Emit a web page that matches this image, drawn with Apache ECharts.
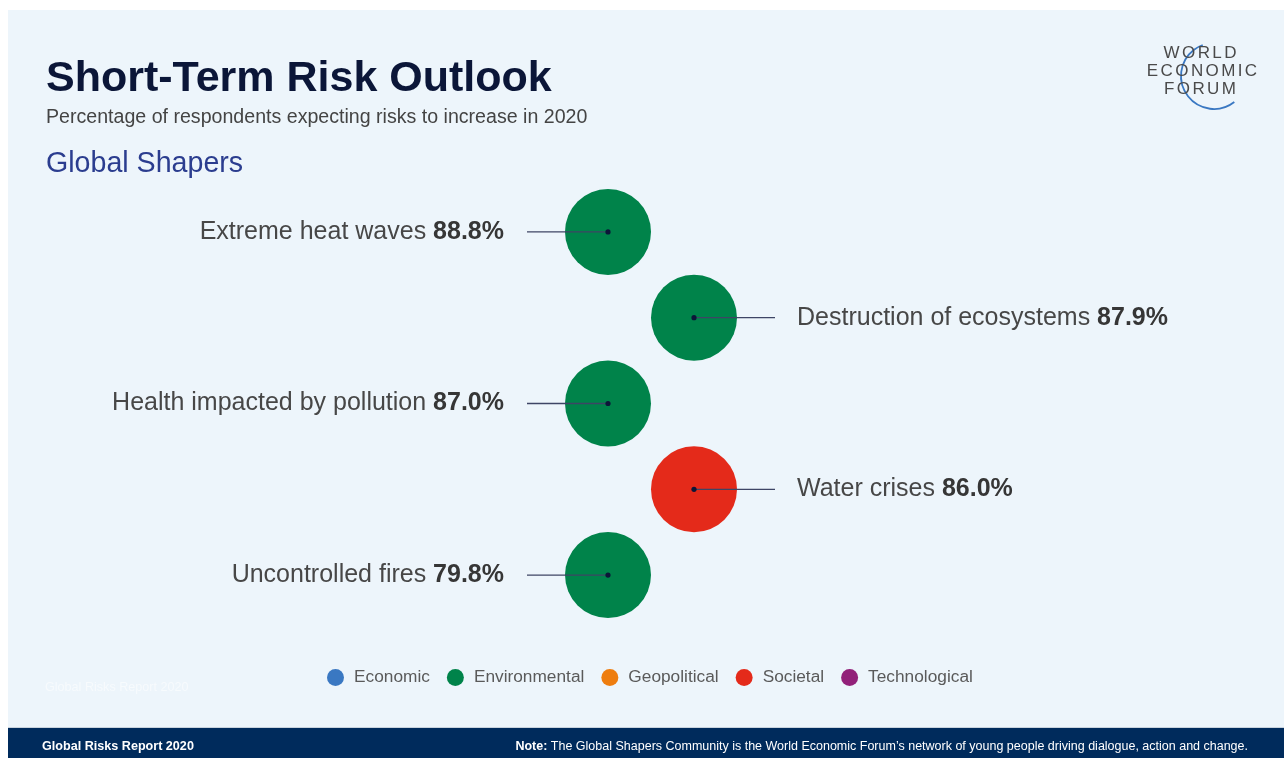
<!DOCTYPE html>
<html>
<head>
<meta charset="utf-8">
<script src="https://cdn.jsdelivr.net/npm/echarts@6/dist/echarts.min.js"></script>
<style>
  html, body { margin: 0; padding: 0; background: #ffffff; }
  #chart { width: 1284px; height: 758px; }
</style>
</head>
<body>
<div id="chart"></div>
<script>
// Risks and share of respondents expecting them to increase
const risks = [
  'Extreme heat waves',
  'Destruction of ecosystems',
  'Health impacted by pollution',
  'Water crises',
  'Uncontrolled fires'
];
const shares = [88.8, 87.9, 87.0, 86.0, 79.8];
const riskCategory = ['Environmental', 'Environmental', 'Environmental', 'Societal', 'Environmental'];

// Legend categories and their colours
const categories = ['Economic', 'Environmental', 'Geopolitical', 'Societal', 'Technological'];
const categoryColors = {
  Economic: '#3A78C2',
  Environmental: '#00834A',
  Geopolitical: '#EE7D0F',
  Societal: '#E42A1A',
  Technological: '#922079'
};

const FONT = '"Liberation Sans", Arial, Helvetica, sans-serif';

// Bubbles alternate between a left column (0) and a right column (1)
const column = i => i % 2;

const bubbleSeries = categories.map(cat => ({
  name: cat,
  type: 'scatter',
  symbol: 'circle',
  symbolSize: 86,
  itemStyle: { color: categoryColors[cat], opacity: 1 },
  emphasis: { disabled: true },
  z: 2,
  data: risks
    .map((r, i) => ({ i, r }))
    .filter(d => riskCategory[d.i] === cat)
    .map(d => ({
      value: [column(d.i), d.r, shares[d.i]],
      label: {
        show: true,
        position: column(d.i) ? 'right' : 'left',
        distance: column(d.i) ? 60 : 61,
        formatter: p => '{n|' + p.value[1] + ' }{v|' + p.value[2].toFixed(1) + '%}',
        rich: {
          n: { fontFamily: FONT, fontSize: 25, color: '#474747' },
          v: { fontFamily: FONT, fontSize: 25, color: '#363636', fontWeight: 'bold' }
        }
      }
    }))
}));

// Leader line from each bubble centre out towards its label
const leaderSeries = {
  type: 'custom',
  name: 'leaders',
  z: 5,
  silent: true,
  data: risks.map((r, i) => [column(i), r]),
  renderItem: (params, api) => {
    const c = api.coord([api.value(0), api.value(1)]);
    const dir = api.value(0) ? 1 : -1;
    return {
      type: 'group',
      children: [
        {
          type: 'line',
          shape: { x1: c[0], y1: c[1], x2: c[0] + dir * 81, y2: c[1] },
          style: { stroke: '#3E4565', lineWidth: 1.3 }
        },
        {
          type: 'circle',
          shape: { cx: c[0], cy: c[1], r: 2.6 },
          style: { fill: '#0B1638' }
        }
      ]
    };
  }
};

// Letter-spaced wordmark lines, laid out one glyph at a time
const measureCtx = document.createElement('canvas').getContext('2d');
function spacedText(str, cx, cy, font, spacing, fill) {
  measureCtx.font = font;
  const widths = Array.from(str).map(ch => measureCtx.measureText(ch).width);
  const total = widths.reduce((a, b) => a + b, 0) + spacing * (str.length - 1);
  let x = cx - total / 2;
  return Array.from(str).map((ch, k) => {
    const el = { type: 'text', z: 2, x: x, y: cy, style: { text: ch, fill: fill, font: font, align: 'left', verticalAlign: 'middle' } };
    x += widths[k] + spacing;
    return el;
  });
}
const LOGO_FONT = '17px ' + FONT;

const chart = echarts.init(document.getElementById('chart'), null, { renderer: 'canvas' });

chart.setOption({
  backgroundColor: '#ffffff',
  animation: false,
  graphic: [
    // panel background
    { type: 'rect', z: -10, shape: { x: 8, y: 10, width: 1276, height: 718 }, style: { fill: '#EDF5FB' } },
    // footer band
    { type: 'rect', z: -10, shape: { x: 8, y: 728, width: 1276, height: 30 }, style: { fill: '#002B5C' } },
    { type: 'line', z: -9, shape: { x1: 8, y1: 727.5, x2: 1284, y2: 727.5 }, style: { stroke: '#C9D3DD', lineWidth: 1 } },
    { type: 'text', left: 42, y: 747, style: { text: 'Global Risks Report 2020', fill: '#ffffff', font: 'bold 12.6px ' + FONT, verticalAlign: 'middle' } },
    {
      type: 'text', right: 36, y: 747,
      style: {
        text: '{b|Note:} The Global Shapers Community is the World Economic Forum\u2019s network of young people driving dialogue, action and change.',
        fill: '#ffffff', font: '12.5px ' + FONT, verticalAlign: 'middle',
        rich: { b: { fill: '#ffffff', font: 'bold 12.5px ' + FONT } }
      }
    },
    // faint watermark line in the panel
    { type: 'text', left: 45, y: 688, style: { text: 'Global Risks Report 2020', fill: 'rgba(255,255,255,0.55)', font: '12.6px ' + FONT, verticalAlign: 'middle' } },
    // title block
    { type: 'text', left: 46, y: 79, style: { text: 'Short-Term Risk Outlook', fill: '#0B1638', font: 'bold 43px ' + FONT, verticalAlign: 'middle' } },
    { type: 'text', left: 46, y: 117.5, style: { text: 'Percentage of respondents expecting risks to increase in 2020', fill: '#444444', font: '19.6px ' + FONT, verticalAlign: 'middle' } },
    { type: 'text', left: 46, y: 164, style: { text: 'Global Shapers', fill: '#2B3D8F', font: '28.6px ' + FONT, verticalAlign: 'middle' } },
    // WEF wordmark
    { type: 'arc', z: 1, shape: { cx: 1214, cy: 76, r: 33, startAngle: 52 * Math.PI / 180, endAngle: 250 * Math.PI / 180, clockwise: true },
      style: { stroke: '#3A78C2', lineWidth: 1.8, fill: null } },
    ...spacedText('WORLD', 1200, 53, LOGO_FONT, 2.4, '#4a4a4a'),
    ...spacedText('ECONOMIC', 1202, 71.5, LOGO_FONT, 2.4, '#4a4a4a'),
    ...spacedText('FORUM', 1200, 89.5, LOGO_FONT, 2.4, '#4a4a4a')
  ],
  legend: {
    data: categories,
    left: 322,
    top: 664,
    icon: 'circle',
    itemWidth: 17,
    itemHeight: 18,
    itemGap: 17,
    selectedMode: false,
    textStyle: { fontFamily: FONT, fontSize: 17.3, color: '#5a5a5a', padding: [0, 0, 0, 5] }
  },
  grid: { left: 608, width: 86, top: 189, height: 429 },
  xAxis: { type: 'value', min: 0, max: 1, show: false },
  yAxis: { type: 'category', data: risks, inverse: true, show: false },
  series: [...bubbleSeries, leaderSeries]
});
</script>
</body>
</html>
